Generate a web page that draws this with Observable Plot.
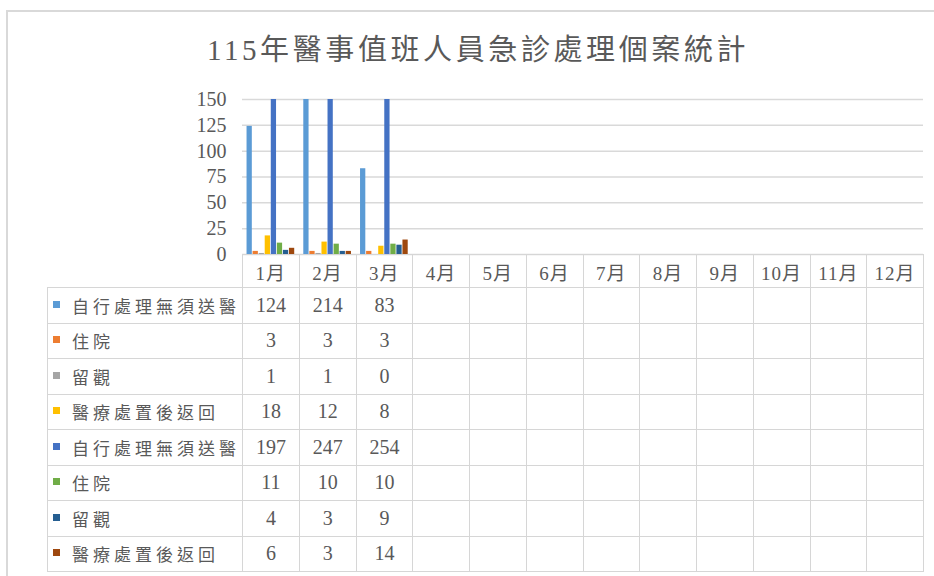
<!DOCTYPE html>
<html>
<head>
<meta charset="utf-8">
<script src="https://cdn.jsdelivr.net/npm/d3@7"></script>
<script src="https://cdn.jsdelivr.net/npm/@observablehq/plot@0.6"></script>
<style>
  html, body { margin: 0; padding: 0; background: #fff; }
  #wrap { position: relative; width: 934px; height: 576px; overflow: hidden;
          font-family: 'Liberation Serif', 'Noto Sans CJK TC', serif; color: #595959; }
  #frame { position: absolute; left: 6px; top: 10px; width: 940px; height: 580px;
           border-left: 2px solid #d9d9d9; border-top: 2px solid #d9d9d9; }
  #title { position: absolute; left: 0; top: 30px; width: 956px; text-align: center;
           font-size: 29px; letter-spacing: 3.6px; line-height: 40px; color: #595959; }
  .layer { position: absolute; left: 0; top: 80px; }
  #tbl { position: absolute; left: 47px; top: 254px; border-collapse: collapse; table-layout: fixed;
         width: 876px; }
  #tbl td { border: 1px solid #d6d6d6; padding: 0; text-align: center; color: #595959;
            font-size: 20px; white-space: nowrap; overflow: hidden; }
  #tbl tr.head td { height: 32px; font-size: 19px; letter-spacing: 1px; }
  #tbl tr.head td.corner { border-top: none; border-left: none; }
  #tbl tr.row td { height: 34.5px; }
  #tbl td.lab { text-align: left; padding-left: 5px; font-size: 17px; letter-spacing: 4px;
                font-family: 'Noto Sans CJK TC', sans-serif; }
  .sw { display: inline-block; width: 7px; height: 7px; margin-right: 12px; position: relative; top: -5px; }
</style>
</head>
<body>
<div id="wrap">
  <div id="frame"></div>
  <div id="title"></div>
  <div id="grid" class="layer"></div>
  <div id="bars" class="layer"></div>
  <table id="tbl"></table>
</div>
<script>
const titleText = "115年醫事值班人員急診處理個案統計";
const months = ["1月","2月","3月","4月","5月","6月","7月","8月","9月","10月","11月","12月"];
const seriesNames = ["自行處理無須送醫","住院","留觀","醫療處置後返回","自行處理無須送醫","住院","留觀","醫療處置後返回"];
const seriesColors = ["#5B9BD5","#ED7D31","#A5A5A5","#FFC000","#4472C4","#70AD47","#255E91","#9E480E"];
const s1 = [124, 214, 83];
const s2 = [3, 3, 3];
const s3 = [1, 1, 0];
const s4 = [18, 12, 8];
const s5 = [197, 247, 254];
const s6 = [11, 10, 10];
const s7 = [4, 3, 9];
const s8 = [6, 3, 14];
const yTicks = [0, 25, 50, 75, 100, 125, 150];

const seriesValues = [s1, s2, s3, s4, s5, s6, s7, s8];
const keys = seriesNames.map((n, i) => "s" + i);
const data = [];
seriesValues.forEach((vals, i) => vals.forEach((v, j) => data.push({month: months[j], key: keys[i], value: v})));

document.getElementById("title").textContent = titleText;

const font = "'Liberation Serif', 'Noto Sans CJK TC', serif";
const common = {width: 934, height: 190, marginTop: 19, marginBottom: 16, marginLeft: 242, marginRight: 11};

const gridPlot = Plot.plot({
  ...common,
  style: {fontFamily: font, fontSize: "20px", color: "#595959", background: "transparent"},
  x: {axis: null},
  y: {domain: [0, 150], axis: null},
  marks: [
    Plot.ruleY(yTicks, {stroke: "#d9d9d9", strokeWidth: 1.5}),
    Plot.axisY(yTicks, {tickSize: 0, tickPadding: 16, label: null, fontSize: 20, tickFormat: d => String(d)})
  ]
});
document.getElementById("grid").appendChild(gridPlot);

const barPlot = Plot.plot({
  ...common,
  style: {background: "transparent"},
  fx: {domain: months, paddingInner: 0.16, paddingOuter: 0.08, round: false, axis: null, label: null},
  x: {domain: keys, axis: null, paddingInner: 0.13, paddingOuter: 0, round: false},
  y: {domain: [0, 150], clamp: true, axis: null},
  color: {domain: keys, range: seriesColors},
  marks: [
    Plot.barY(data, {fx: "month", x: "key", y: "value", fill: "key"})
  ]
});
document.getElementById("bars").appendChild(barPlot);

// data table
const tbl = document.getElementById("tbl");
const cg = document.createElement("colgroup");
const c0 = document.createElement("col"); c0.style.width = "195px"; cg.appendChild(c0);
months.forEach(() => { const c = document.createElement("col"); c.style.width = (681 / 12) + "px"; cg.appendChild(c); });
tbl.appendChild(cg);
const head = document.createElement("tr"); head.className = "head";
const corner = document.createElement("td"); corner.className = "corner"; head.appendChild(corner);
months.forEach(m => { const td = document.createElement("td"); td.textContent = m; head.appendChild(td); });
tbl.appendChild(head);
seriesNames.forEach((name, i) => {
  const tr = document.createElement("tr"); tr.className = "row";
  const lab = document.createElement("td"); lab.className = "lab";
  const sw = document.createElement("span"); sw.className = "sw"; sw.style.background = seriesColors[i];
  lab.appendChild(sw); lab.appendChild(document.createTextNode(name));
  tr.appendChild(lab);
  months.forEach((m, j) => {
    const td = document.createElement("td");
    const v = seriesValues[i][j];
    td.textContent = v === undefined ? "" : String(v);
    tr.appendChild(td);
  });
  tbl.appendChild(tr);
});
</script>
</body>
</html>
